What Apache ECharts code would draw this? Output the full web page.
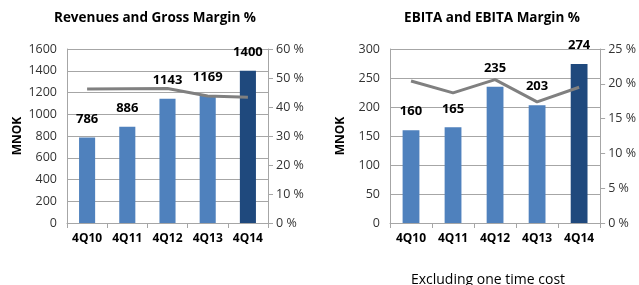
<!DOCTYPE html>
<html>
<head>
<meta charset="utf-8">
<script src="https://cdn.jsdelivr.net/npm/echarts@6/dist/echarts.min.js"></script>
<style>
 html, body { margin: 0; padding: 0; background: #fff; }
 #chart { width: 639px; height: 285px; }
</style>
</head>
<body>
<div id="chart"></div>
<script>
 // kvartaler
 var quarters = ['4Q10', '4Q11', '4Q12', '4Q13', '4Q14'];
 // venstre: omsetning og bruttomargin
 var revenues = [786, 886, 1143, 1169, 1400];
 var grossMargin = [46.2, 46.3, 46.4, 43.8, 43.4];
 // høyre: EBITA og EBITA-margin
 var ebita = [160, 165, 235, 203, 274];
 var ebitaMargin = [20.4, 18.7, 20.6, 17.4, 19.5];

 var barBlue = '#4F81BD';
 var barDark = '#1F497D';
 var lineGrey = '#808080';
 var font = 'Open Sans';

 var colorBars = function (vals) {
     return vals.map(function (v, i) {
         return {value: v, itemStyle: {color: i === vals.length - 1 ? barDark : barBlue}};
     });
 };

 var valAxis = function (gridIndex, max, interval, suffix, pos) {
     return {
         type: 'value',
         gridIndex: gridIndex,
         position: pos,
         min: 0,
         max: max,
         interval: interval,
         name: pos === 'left' ? 'MNOK' : '',
         nameLocation: 'middle',
         nameGap: 43,
         nameRotate: 90,
         nameTextStyle: {fontFamily: font, fontWeight: 'bold', fontSize: 12, color: '#000'},
         axisLine: {show: true, lineStyle: {color: '#a6a6a6'}},
         axisTick: {show: pos === 'right', length: 5, lineStyle: {color: '#a6a6a6'}},
         axisLabel: {
             fontFamily: font, fontSize: 12.5, color: '#333', margin: pos === 'right' ? 8 : 10,
             formatter: function (v) { return String(v) + suffix; }
         },
         splitLine: {show: pos === 'left', lineStyle: {color: '#a6a6a6'}}
     };
 };

 var catAxis = function (gridIndex) {
     return {
         type: 'category',
         gridIndex: gridIndex,
         data: quarters,
         axisLine: {lineStyle: {color: '#a6a6a6'}},
         axisTick: {show: true, length: 5, lineStyle: {color: '#a6a6a6'}},
         axisLabel: {fontFamily: font, fontSize: 12, fontWeight: 'bold', color: '#000', margin: 10}
     };
 };

 var chart = echarts.init(document.getElementById('chart'));
 chart.setOption({
     animation: false,
     title: [
         {text: 'Revenues and Gross Margin %', left: 150, top: 6, textAlign: 'center',
          textStyle: {fontFamily: font, fontSize: 13.5, fontWeight: 'bold', color: '#000'}},
         {text: 'EBITA and EBITA Margin %', left: 487, top: 6, textAlign: 'center',
          textStyle: {fontFamily: font, fontSize: 13.5, fontWeight: 'bold', color: '#000'}},
         {text: 'Excluding one time cost', left: 483, top: 268, textAlign: 'center',
          textStyle: {fontFamily: font, fontSize: 14, fontWeight: 'normal', color: '#000'}}
     ],
     grid: [
         {left: 67, top: 49, width: 201, height: 174},
         {left: 390, top: 49, width: 211, height: 174}
     ],
     xAxis: [catAxis(0), catAxis(1)],
     yAxis: [
         valAxis(0, 1600, 200, '', 'left'),
         valAxis(0, 60, 10, ' %', 'right'),
         valAxis(1, 300, 50, '', 'left'),
         valAxis(1, 25, 5, ' %', 'right')
     ],
     series: [
         {type: 'bar', xAxisIndex: 0, yAxisIndex: 0, barWidth: '40%', data: colorBars(revenues),
          label: {show: true, position: 'top', distance: 12, fontFamily: font, fontSize: 13, fontWeight: 'bold', color: '#000'}},
         {type: 'line', xAxisIndex: 0, yAxisIndex: 1, data: grossMargin, symbol: 'none', z: 5,
          lineStyle: {color: lineGrey, width: 3}},
         {type: 'bar', xAxisIndex: 1, yAxisIndex: 2, barWidth: '40%', data: colorBars(ebita),
          label: {show: true, position: 'top', distance: 12, fontFamily: font, fontSize: 13, fontWeight: 'bold', color: '#000'}},
         {type: 'line', xAxisIndex: 1, yAxisIndex: 3, data: ebitaMargin, symbol: 'none', z: 5,
          lineStyle: {color: lineGrey, width: 3}}
     ]
 });
</script>
</body>
</html>
